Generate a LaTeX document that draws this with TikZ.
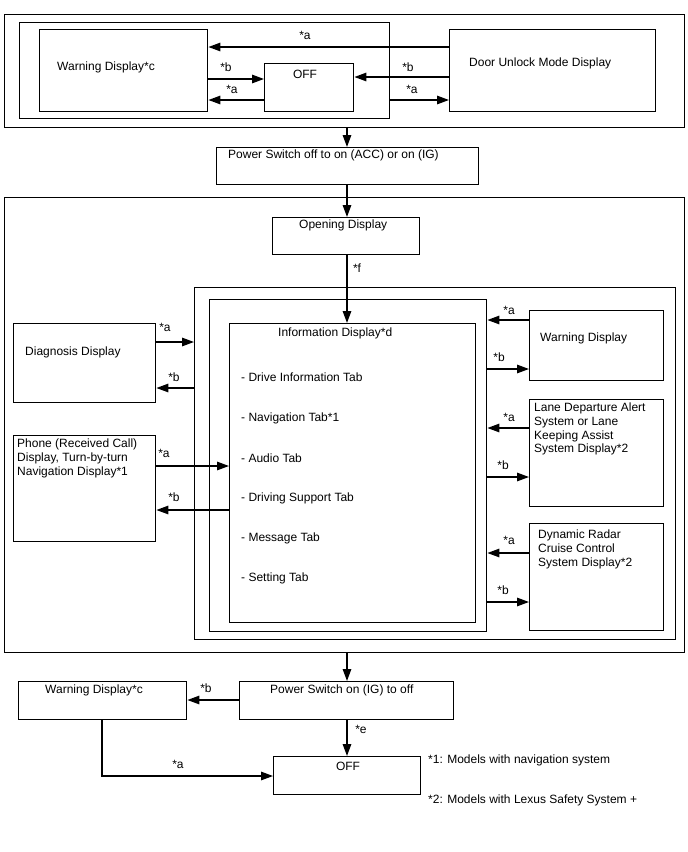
\documentclass[tikz,border=0pt]{standalone}
\usepackage{fontspec}
\setmainfont{Liberation Sans}
\usetikzlibrary{arrows.meta}

\tikzset{
  box/.style={draw, line width=1.4pt, inner sep=0pt, anchor=north west},
  txt/.style={font=\fontsize{12}{13.8}\selectfont, inner sep=0pt},
  lbl/.style={font=\fontsize{12}{13.8}\selectfont, inner sep=0pt},
  arr/.style={line width=1.4pt, -{Triangle[length=12pt,width=8.5pt]}},
}

\begin{document}
\begin{tikzpicture}[x=1pt, y=-1pt]
    \useasboundingbox (0,0) rectangle (688,852);

    \node[box, minimum width=680pt, minimum height=113pt] (topframe) at (4,14) {};
    \node[box, minimum width=370pt, minimum height=96pt] (inframe) at (19,22) {};
    \node[box, minimum width=168pt, minimum height=82pt] (warnc) at (39,29) {};
    \node[box, minimum width=89pt, minimum height=48pt] (offa) at (264,63) {};
    \node[box, minimum width=206pt, minimum height=82pt] (door) at (449,29) {};
    \node[txt, anchor=west] (warnctxt) at (57,67) {Warning Display*c};
    \node[txt] (offatxt) at (305,74) {OFF};
    \node[txt, anchor=west] (doortxt) at (469,63) {Door Unlock Mode Display};

    \draw[arr] (door.west |- 0,47) -- (warnc.east |- 0,47);
    \draw[arr] (warnc.east |- 0,79) -- (offa.west |- 0,79);
    \draw[arr] (offa.west |- 0,100) -- (warnc.east |- 0,100);
    \draw[arr] (door.west |- 0,77) -- (offa.east |- 0,77);
    \draw[arr] (inframe.east |- 0,100) -- (door.west |- 0,100);
    \node[lbl] (la1) at (305,35) {*a};
    \node[lbl] (lb1) at (226,67) {*b};
    \node[lbl] (la2) at (232,89) {*a};
    \node[lbl] (lb2) at (408,67) {*b};
    \node[lbl] (la3) at (412,89) {*a};

    \node[box, minimum width=262pt, minimum height=37pt] (psa) at (216,147) {};
    \node[txt, anchor=west] (psatxt) at (228,155) {Power Switch off to on (ACC) or on (IG)};
    \draw[arr] (topframe.south -| 347,0) -- (psa.north -| 347,0);

    \node[box, minimum width=680pt, minimum height=455pt] (midframe) at (4,197) {};
    \node[box, minimum width=147pt, minimum height=37pt] (opening) at (272,217) {};
    \node[txt, anchor=west] (openingtxt) at (299,225) {Opening Display};
    \draw[arr] (psa.south -| 347,0) -- (opening.north -| 347,0);

    \node[box, minimum width=481pt, minimum height=352pt] (infoa) at (194,287) {};
    \node[box, minimum width=277pt, minimum height=332pt] (infob) at (209,299) {};
    \node[box, minimum width=246pt, minimum height=299pt] (info) at (229,323) {};
    \node[txt, anchor=west] (infotxt) at (278,333) {Information Display*d};
    \node[txt, anchor=west] (tab1) at (241,377) {- Drive Information Tab};
    \node[txt, anchor=west] (tab2) at (241,418) {- Navigation Tab*1};
    \node[txt, anchor=west] (tab3) at (241,458) {- Audio Tab};
    \node[txt, anchor=west] (tab4) at (241,498) {- Driving Support Tab};
    \node[txt, anchor=west] (tab5) at (241,538) {- Message Tab};
    \node[txt, anchor=west] (tab6) at (241,578) {- Setting Tab};
    \draw[arr] (opening.south -| 347,0) -- (info.north -| 347,0);
    \node[lbl] (lf) at (357,268) {*f};

    \node[box, minimum width=142pt, minimum height=79pt] (diag) at (13,323) {};
    \node[txt, anchor=west] (diagtxt) at (25,352) {Diagnosis Display};
    \node[box, minimum width=142pt, minimum height=106pt] (phone) at (13,435) {};
    \node[txt, align=left, anchor=north west] (phonetxt) at (17,438.5)
        {Phone (Received Call)\\Display, Turn-by-turn\\Navigation Display*1};
    \draw[arr] (diag.east |- 0,342) -- (infoa.west |- 0,342);
    \draw[arr] (infoa.west |- 0,388) -- (diag.east |- 0,388);
    \draw[arr] (phone.east |- 0,466) -- (info.west |- 0,466);
    \draw[arr] (info.west |- 0,510) -- (phone.east |- 0,510);
    \node[lbl] (la4) at (165,327) {*a};
    \node[lbl] (lb4) at (174,377) {*b};
    \node[lbl] (la5) at (164,453) {*a};
    \node[lbl] (lb5) at (174,497) {*b};

    \node[box, minimum width=134pt, minimum height=70pt] (warnb) at (529,310) {};
    \node[txt, anchor=west] (warnbtxt) at (540,338) {Warning Display};
    \node[box, minimum width=134pt, minimum height=107pt] (lane) at (529,399) {};
    \node[txt, align=left, anchor=north west] (lanetxt) at (534,402.5)
        {Lane Departure Alert\\System or Lane\\Keeping Assist\\System Display*2};
    \node[box, minimum width=134pt, minimum height=107pt] (radar) at (529,523) {};
    \node[txt, align=left, anchor=north west] (radartxt) at (538,529.5)
        {Dynamic Radar\\Cruise Control\\System Display*2};
    \draw[arr] (warnb.west |- 0,320) -- (infob.east |- 0,320);
    \draw[arr] (infob.east |- 0,369) -- (warnb.west |- 0,369);
    \draw[arr] (lane.west |- 0,428) -- (infob.east |- 0,428);
    \draw[arr] (infob.east |- 0,477) -- (lane.west |- 0,477);
    \draw[arr] (radar.west |- 0,553) -- (infob.east |- 0,553);
    \draw[arr] (infob.east |- 0,602) -- (radar.west |- 0,602);
    \node[lbl] (la6) at (509,310) {*a};
    \node[lbl] (lb6) at (499,357) {*b};
    \node[lbl] (la7) at (509,417) {*a};
    \node[lbl] (lb7) at (503,465) {*b};
    \node[lbl] (la8) at (509,540) {*a};
    \node[lbl] (lb8) at (503,590) {*b};

    \node[box, minimum width=214pt, minimum height=38pt] (psb) at (239,681) {};
    \node[txt, anchor=west] (psbtxt) at (270,690) {Power Switch on (IG) to off};
    \node[box, minimum width=168pt, minimum height=38pt] (warnd) at (18,681) {};
    \node[txt, anchor=west] (warndtxt) at (45,690) {Warning Display*c};
    \node[box, minimum width=147pt, minimum height=38pt] (offb) at (273,756) {};
    \node[txt] (offbtxt) at (348,766) {OFF};
    \draw[arr] (midframe.south -| 347,0) -- (psb.north -| 347,0);
    \draw[arr] (psb.west |- 0,700) -- (warnd.east |- 0,700);
    \draw[arr] (psb.south -| 347,0) -- (offb.north -| 347,0);
    \draw[arr] (warnd.south -| 102,0) |- (offb.west |- 0,776);
    \node[lbl] (lb9) at (206,688) {*b};
    \node[lbl] (le) at (361,729) {*e};
    \node[lbl] (la9) at (178,764) {*a};

    \node[txt, anchor=west] (note1) at (428,760) {*1: Models with navigation system};
    \node[txt, anchor=west] (note2) at (428,800) {*2: Models with Lexus Safety System +};
\end{tikzpicture}
\end{document}
